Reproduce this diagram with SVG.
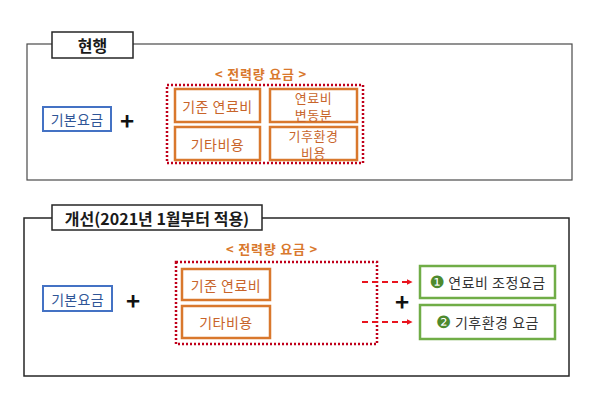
<svg xmlns="http://www.w3.org/2000/svg" width="600" height="404" viewBox="0 0 600 404">
<defs>
<marker id="ah" viewBox="0 0 10 10" refX="9" refY="5" markerWidth="6" markerHeight="6" orient="auto" markerUnits="userSpaceOnUse">
<path d="M0,0 L10,5 L0,10 z" fill="#E8141E"/>
</marker>
</defs>
<style>
text{font-family:"Noto Sans CJK KR","Noto Sans",sans-serif;text-anchor:middle;dominant-baseline:central}
.panel{fill:#fff;stroke:#4a4a4a;stroke-width:1.2}
.panel2{fill:#fff;stroke:#262626;stroke-width:1.5}
.tab{fill:#fff;stroke:#262626;stroke-width:1.5}
.tabt{font-size:16px;font-weight:bold;fill:#1a1a1a}
.blue{fill:#fff;stroke:#4472C4;stroke-width:2}
.bluet{font-size:14px;fill:#2F5597;letter-spacing:0.3px}
.org{fill:#fff;stroke:#D9782D;stroke-width:2.5}
.orgt{font-size:14px;fill:#C8642A;letter-spacing:0.5px}
.orgs{font-size:13px;fill:#C8642A;letter-spacing:0.5px}
.hdr{font-size:13px;font-weight:bold;fill:#D9782D;letter-spacing:0.8px}
.dot{fill:none;stroke:#C0001A;stroke-width:2.5;stroke-dasharray:2 2}
.grn{fill:#fff;stroke:#70AD47;stroke-width:2.5}
.grnt{font-size:14px;fill:#333;letter-spacing:0.5px}
.num{font-family:"DejaVu Sans",sans-serif;fill:#4E8A2E;font-size:17px}
.plus{font-size:24px;font-weight:bold;fill:#111}
.arr{stroke:#E8141E;stroke-width:2;stroke-dasharray:6 4;fill:none}
</style>

<g id="current">
<rect class="panel" x="27" y="44" width="545" height="136"/>
<g id="tab1"><rect class="tab" x="52" y="32" width="81" height="26"/><text class="tabt" x="92.5" y="45">현행</text></g>
<g id="base1"><rect class="blue" x="43" y="107" width="68" height="24"/><text class="bluet" x="77" y="119">기본요금</text></g>
<text class="plus" x="127" y="119">+</text>
<text class="hdr" x="261" y="73">&lt; 전력량 요금 &gt;</text>
<g id="energy1">
<rect class="dot" x="167" y="85" width="196" height="78"/>
<g id="n1a"><rect class="org" x="175" y="89" width="85" height="33"/><text class="orgt" x="217.5" y="105.5">기준 연료비</text></g>
<g id="n1b"><rect class="org" x="270" y="89" width="87" height="33"/><text class="orgs" x="313.5" y="97">연료비</text><text class="orgs" x="313.5" y="114.5">변동분</text></g>
<g id="n1c"><rect class="org" x="175" y="127" width="85" height="33"/><text class="orgt" x="217.5" y="143.5">기타비용</text></g>
<g id="n1d"><rect class="org" x="270" y="127" width="87" height="33"/><text class="orgs" x="313.5" y="135">기후환경</text><text class="orgs" x="313.5" y="152.5">비용</text></g>
</g>
</g>

<g id="improved">
<rect class="panel2" x="24" y="218" width="545" height="158"/>
<g id="tab2"><rect class="tab" x="52" y="205" width="210" height="25"/><text class="tabt" x="157" y="217.5">개선(2021년 1월부터 적용)</text></g>
<g id="base2"><rect class="blue" x="43" y="286" width="69" height="25"/><text class="bluet" x="77.5" y="298.5">기본요금</text></g>
<text class="plus" x="133" y="299">+</text>
<text class="hdr" x="272" y="248">&lt; 전력량 요금 &gt;</text>
<g id="energy2">
<rect class="dot" x="176" y="262" width="201" height="82"/>
<g id="n2a"><rect class="org" x="182" y="269" width="88" height="31"/><text class="orgt" x="226" y="284.5">기준 연료비</text></g>
<g id="n2b"><rect class="org" x="182" y="306" width="88" height="32"/><text class="orgt" x="226" y="322">기타비용</text></g>
</g>
<text class="plus" x="402" y="300">+</text>
<g id="g1"><rect class="grn" x="420" y="266" width="135" height="32"/><text x="487.5" y="282"><tspan class="num">❶</tspan><tspan class="grnt"> 연료비 조정요금</tspan></text></g>
<g id="g2"><rect class="grn" x="420" y="305" width="135" height="34"/><text x="487.5" y="322"><tspan class="num">❷</tspan><tspan class="grnt"> 기후환경 요금</tspan></text></g>
</g>

<g id="connectors">
<line class="arr" x1="362" y1="282" x2="412" y2="282" marker-end="url(#ah)"/>
<line class="arr" x1="362" y1="322" x2="412" y2="322" marker-end="url(#ah)"/>
</g>
</svg>
